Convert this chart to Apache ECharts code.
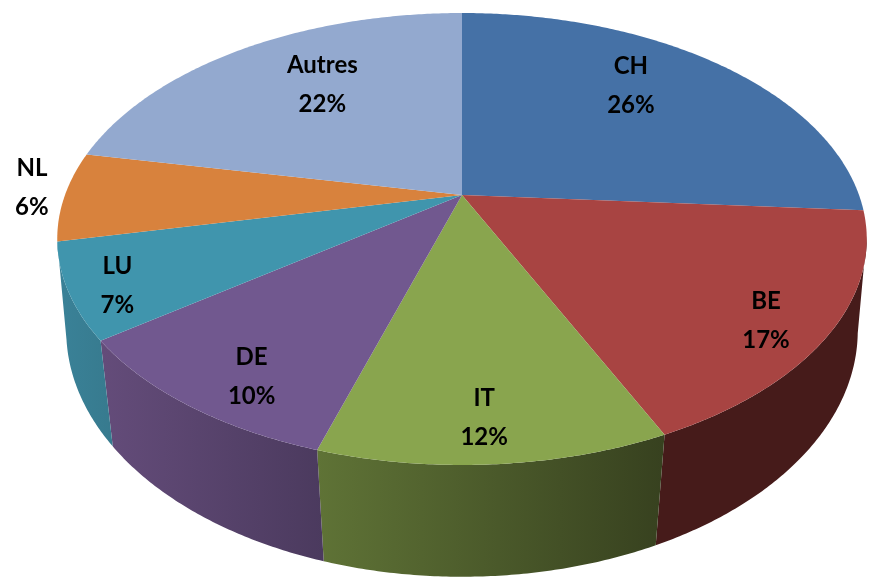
<!DOCTYPE html>
<html>
<head>
<meta charset="utf-8">
<style>
  html, body { margin: 0; padding: 0; background: #fff; }
  #chart { width: 877px; height: 580px; }
</style>
<script src="https://cdn.jsdelivr.net/npm/echarts@6/dist/echarts.min.js"></script>
</head>
<body>
<div id="chart"></div>
<script>
const categories = ["CH", "BE", "IT", "DE", "LU", "NL", "Autres"];
// read from the slice edges, the labels show these rounded
const shares = [26.1, 17, 11.7, 10.1, 6.8, 6.4, 21.9];

const topColors = ["#4571a6", "#a84442", "#89a54e", "#71588f", "#4095ad", "#d8823d", "#93a9cf"];
// side wall: colour at the left and right end of each slice, null = wall hidden
const sideColors = [
  null,
  ["#461b1a", "#461b1a"],
  ["#5f7336", "#37411f"],
  ["#644c7a", "#4b3a5e"],
  ["#3a8298", "#377a8e"],
  null,
  null
];
// label shift from the slice's mid point, same order as categories
const labelShift = [[-17, -14], [56, 32], [1, 47], [-29, 42], [-76, 25], [-152, -8], [20, -4]];

// the top and bottom discs, each seen in perspective
const topDisc = { cx: 462, cy: 195, rx: 397, ry: 217.4, k: 0.1947 };
const bottomDisc = { cx: 462, cy: 288.8, rx: 390, ry: 239, k: 0.17 };
const wallFrom = 100.4;
const wallTo = 259.6;

const total = shares.reduce((a, b) => a + b, 0);
const starts = [];
shares.reduce((sum, v, i) => {
  starts[i] = (sum / total) * 360;
  return sum + v;
}, 0);

// angle in degrees, clockwise from the top
function project(disc, deg, rho) {
  const t = (deg * Math.PI) / 180;
  const u = rho * Math.sin(t);
  const v = -rho * Math.cos(t);
  const w = 1 - disc.k * v;
  return [disc.cx + (disc.rx * u) / w, disc.cy + (disc.ry * v) / w];
}

function arc(disc, from, to) {
  const pts = [];
  const steps = Math.max(2, Math.ceil(Math.abs(to - from) * 2));
  for (let i = 0; i <= steps; i++) {
    pts.push(project(disc, from + ((to - from) * i) / steps, 1));
  }
  return pts;
}

function renderWall(params, api) {
  const i = params.dataIndex;
  const colors = sideColors[i];
  if (!colors) return null;
  const sweep = (api.value(0) / total) * 360;
  const from = Math.max(starts[i], wallFrom);
  const to = Math.min(starts[i] + sweep, wallTo);
  const upper = arc(topDisc, from, to);
  const lower = arc(bottomDisc, from, to).reverse();
  const points = upper.concat(lower);
  const xs = points.map(p => p[0]);
  return {
    type: "polygon",
    shape: { points },
    style: {
      fill: new echarts.graphic.LinearGradient(
        Math.min(...xs), 0, Math.max(...xs), 0,
        [{ offset: 0, color: colors[0] }, { offset: 1, color: colors[1] }],
        true
      )
    }
  };
}

function renderTop(params, api) {
  const i = params.dataIndex;
  const value = api.value(0);
  const sweep = (value / total) * 360;
  const points = [[topDisc.cx, topDisc.cy]].concat(arc(topDisc, starts[i], starts[i] + sweep));
  const mid = project(topDisc, starts[i] + sweep / 2, 0.7);
  return {
    type: "group",
    children: [
      { type: "polygon", shape: { points }, style: { fill: topColors[i] } },
      {
        type: "text",
        z2: 10,
        style: {
          x: mid[0] + labelShift[i][0],
          y: mid[1] + labelShift[i][1],
          text: categories[i] + "\n" + Math.round(value) + "%",
          align: "center",
          verticalAlign: "middle",
          lineHeight: 39,
          fontFamily: "Lato",
          fontWeight: "bold",
          fontSize: 24,
          fill: "#000"
        }
      }
    ]
  };
}

const chart = echarts.init(document.getElementById("chart"));
const data = shares.map((v, i) => ({ name: categories[i], value: [v] }));

chart.setOption({
  animation: false,
  backgroundColor: "#fff",
  series: [
    { type: "custom", coordinateSystem: "none", renderItem: renderWall, data, z: 1, silent: true },
    { type: "custom", coordinateSystem: "none", renderItem: renderTop, data, z: 2, silent: true }
  ]
});
</script>
</body>
</html>
